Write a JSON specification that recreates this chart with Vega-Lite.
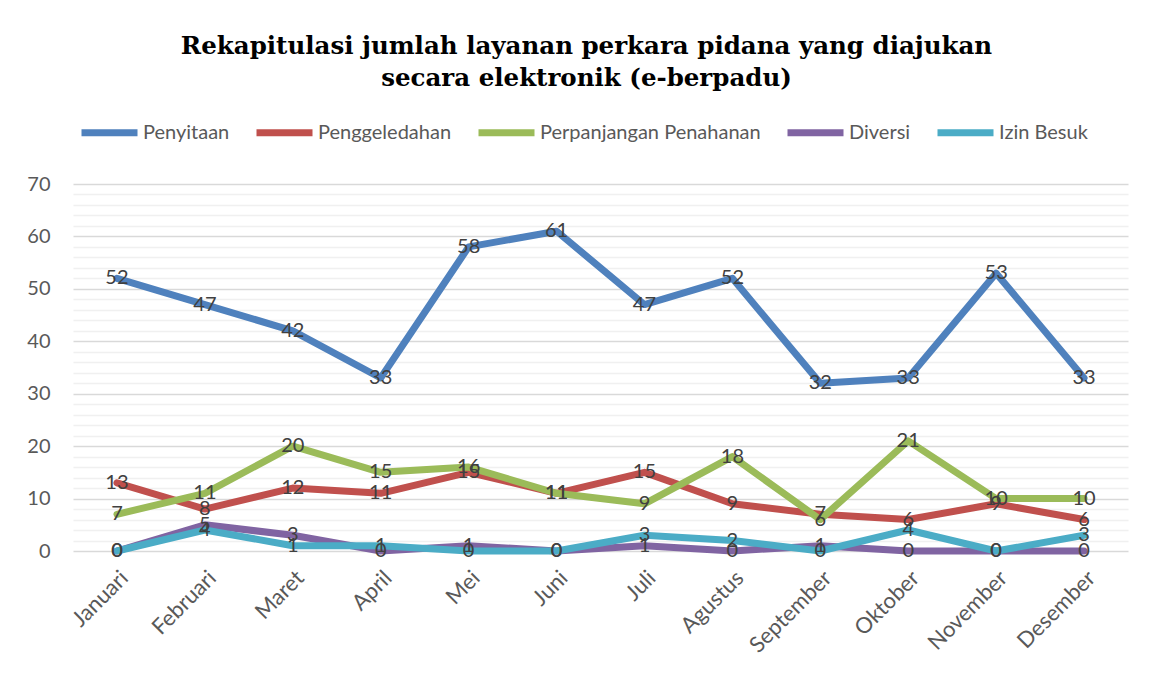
{
  "$schema": "https://vega.github.io/schema/vega-lite/v6.json",
  "width": 1055,
  "height": 367,
  "autosize": "none",
  "padding": {"left": 73, "top": 184, "right": 32, "bottom": 124},
  "background": "white",
  "config": {"view": {"stroke": null}},
  "title": {
    "text": ["Rekapitulasi jumlah layanan perkara pidana yang diajukan", "secara elektronik (e-berpadu)"],
    "font": "DejaVu Serif",
    "fontSize": 24.5,
    "fontWeight": "bold",
    "color": "#000000",
    "anchor": "middle",
    "frame": "group",
    "lineHeight": 32,
    "dx": -14,
    "offset": 10
  },
  "datasets": {
    "d": [
      {"bulan": "Januari", "seri": "Penyitaan", "nilai": 52},
      {"bulan": "Februari", "seri": "Penyitaan", "nilai": 47},
      {"bulan": "Maret", "seri": "Penyitaan", "nilai": 42},
      {"bulan": "April", "seri": "Penyitaan", "nilai": 33},
      {"bulan": "Mei", "seri": "Penyitaan", "nilai": 58},
      {"bulan": "Juni", "seri": "Penyitaan", "nilai": 61},
      {"bulan": "Juli", "seri": "Penyitaan", "nilai": 47},
      {"bulan": "Agustus", "seri": "Penyitaan", "nilai": 52},
      {"bulan": "September", "seri": "Penyitaan", "nilai": 32},
      {"bulan": "Oktober", "seri": "Penyitaan", "nilai": 33},
      {"bulan": "November", "seri": "Penyitaan", "nilai": 53},
      {"bulan": "Desember", "seri": "Penyitaan", "nilai": 33},
      {"bulan": "Januari", "seri": "Penggeledahan", "nilai": 13},
      {"bulan": "Februari", "seri": "Penggeledahan", "nilai": 8},
      {"bulan": "Maret", "seri": "Penggeledahan", "nilai": 12},
      {"bulan": "April", "seri": "Penggeledahan", "nilai": 11},
      {"bulan": "Mei", "seri": "Penggeledahan", "nilai": 15},
      {"bulan": "Juni", "seri": "Penggeledahan", "nilai": 11},
      {"bulan": "Juli", "seri": "Penggeledahan", "nilai": 15},
      {"bulan": "Agustus", "seri": "Penggeledahan", "nilai": 9},
      {"bulan": "September", "seri": "Penggeledahan", "nilai": 7},
      {"bulan": "Oktober", "seri": "Penggeledahan", "nilai": 6},
      {"bulan": "November", "seri": "Penggeledahan", "nilai": 9},
      {"bulan": "Desember", "seri": "Penggeledahan", "nilai": 6},
      {"bulan": "Januari", "seri": "Perpanjangan Penahanan", "nilai": 7},
      {"bulan": "Februari", "seri": "Perpanjangan Penahanan", "nilai": 11},
      {"bulan": "Maret", "seri": "Perpanjangan Penahanan", "nilai": 20},
      {"bulan": "April", "seri": "Perpanjangan Penahanan", "nilai": 15},
      {"bulan": "Mei", "seri": "Perpanjangan Penahanan", "nilai": 16},
      {"bulan": "Juni", "seri": "Perpanjangan Penahanan", "nilai": 11},
      {"bulan": "Juli", "seri": "Perpanjangan Penahanan", "nilai": 9},
      {"bulan": "Agustus", "seri": "Perpanjangan Penahanan", "nilai": 18},
      {"bulan": "September", "seri": "Perpanjangan Penahanan", "nilai": 6},
      {"bulan": "Oktober", "seri": "Perpanjangan Penahanan", "nilai": 21},
      {"bulan": "November", "seri": "Perpanjangan Penahanan", "nilai": 10},
      {"bulan": "Desember", "seri": "Perpanjangan Penahanan", "nilai": 10},
      {"bulan": "Januari", "seri": "Diversi", "nilai": 0},
      {"bulan": "Februari", "seri": "Diversi", "nilai": 5},
      {"bulan": "Maret", "seri": "Diversi", "nilai": 3},
      {"bulan": "April", "seri": "Diversi", "nilai": 0},
      {"bulan": "Mei", "seri": "Diversi", "nilai": 1},
      {"bulan": "Juni", "seri": "Diversi", "nilai": 0},
      {"bulan": "Juli", "seri": "Diversi", "nilai": 1},
      {"bulan": "Agustus", "seri": "Diversi", "nilai": 0},
      {"bulan": "September", "seri": "Diversi", "nilai": 1},
      {"bulan": "Oktober", "seri": "Diversi", "nilai": 0},
      {"bulan": "November", "seri": "Diversi", "nilai": 0},
      {"bulan": "Desember", "seri": "Diversi", "nilai": 0},
      {"bulan": "Januari", "seri": "Izin Besuk", "nilai": 0},
      {"bulan": "Februari", "seri": "Izin Besuk", "nilai": 4},
      {"bulan": "Maret", "seri": "Izin Besuk", "nilai": 1},
      {"bulan": "April", "seri": "Izin Besuk", "nilai": 1},
      {"bulan": "Mei", "seri": "Izin Besuk", "nilai": 0},
      {"bulan": "Juni", "seri": "Izin Besuk", "nilai": 0},
      {"bulan": "Juli", "seri": "Izin Besuk", "nilai": 3},
      {"bulan": "Agustus", "seri": "Izin Besuk", "nilai": 2},
      {"bulan": "September", "seri": "Izin Besuk", "nilai": 0},
      {"bulan": "Oktober", "seri": "Izin Besuk", "nilai": 4},
      {"bulan": "November", "seri": "Izin Besuk", "nilai": 0},
      {"bulan": "Desember", "seri": "Izin Besuk", "nilai": 3}
    ]
  },
  "data": {"name": "d"},
  "encoding": {
    "x": {
      "field": "bulan",
      "type": "ordinal",
      "sort": ["Januari", "Februari", "Maret", "April", "Mei", "Juni", "Juli", "Agustus", "September", "Oktober", "November", "Desember"],
      "scale": {"type": "point", "padding": 0.5},
      "axis": {
        "title": null,
        "domain": false,
        "ticks": false,
        "grid": false,
        "labelAngle": -45,
        "labelFont": "Lato",
        "labelFontSize": 22,
        "labelColor": "#595959",
        "labelPadding": 16
      }
    },
    "y": {
      "field": "nilai",
      "type": "quantitative",
      "scale": {"domain": [0, 70], "nice": false, "zero": true}
    }
  },
  "layer": [
    {
      "mark": {"type": "line", "strokeWidth": 7, "strokeCap": "round", "strokeJoin": "round"},
      "encoding": {
        "y": {
          "field": "nilai",
          "type": "quantitative",
          "axis": {
            "orient": "left",
            "title": null,
            "values": [2, 4, 6, 8, 12, 14, 16, 18, 22, 24, 26, 28, 32, 34, 36, 38, 42, 44, 46, 48, 52, 54, 56, 58, 62, 64, 66, 68],
            "labels": false,
            "ticks": false,
            "domain": false,
            "grid": true,
            "gridColor": "#f0f0f0",
            "gridWidth": 1.5
          }
        },
        "color": {
          "field": "seri",
          "type": "nominal",
          "sort": ["Penyitaan", "Penggeledahan", "Perpanjangan Penahanan", "Diversi", "Izin Besuk"],
          "scale": {
            "domain": ["Penyitaan", "Penggeledahan", "Perpanjangan Penahanan", "Diversi", "Izin Besuk"],
            "range": ["#4F81BD", "#C0504D", "#9BBB59", "#8064A2", "#4BACC6"]
          },
          "legend": {
            "title": null,
            "orient": "none",
            "direction": "horizontal",
            "legendX": 5,
            "legendY": -83,
            "symbolType": "stroke",
            "symbolSize": 3136,
            "symbolStrokeWidth": 7,
            "labelFont": "Lato",
            "labelFontSize": 20,
            "labelColor": "#595959",
            "labelOffset": 2,
            "labelLimit": 400,
            "columnPadding": 12
          }
        }
      }
    },
    {
      "mark": {"type": "text", "font": "Lato", "fontSize": 20, "color": "#404040", "align": "center", "baseline": "middle"},
      "encoding": {
        "y": {
          "field": "nilai",
          "type": "quantitative",
          "axis": {
            "orient": "left",
            "title": null,
            "values": [0, 10, 20, 30, 40, 50, 60, 70],
            "ticks": false,
            "domain": false,
            "grid": true,
            "gridColor": "#d9d9d9",
            "gridWidth": 1.5,
            "labelFont": "Lato",
            "labelFontSize": 20,
            "labelColor": "#595959",
            "labelPadding": 23
          }
        },
        "text": {"field": "nilai", "type": "quantitative"}
      }
    }
  ],
  "resolve": {"axis": {"y": "independent"}}
}
